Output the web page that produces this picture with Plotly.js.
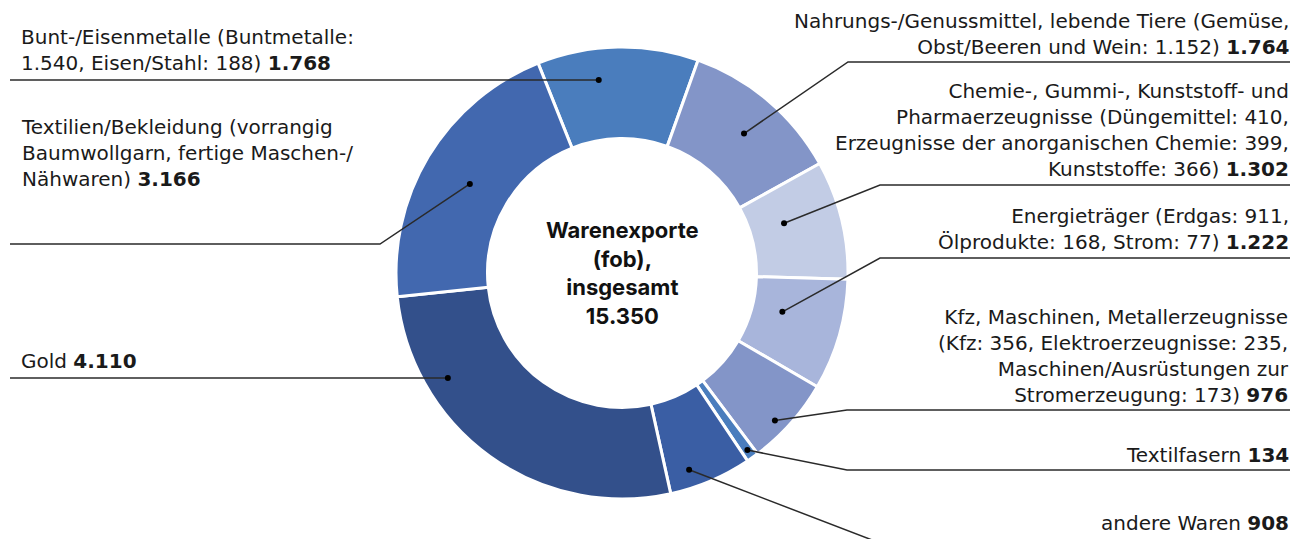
<!DOCTYPE html>
<html>
<head>
<meta charset="utf-8">
<script src="https://cdn.plot.ly/plotly-3.0.1.min.js"></script>
<style>
  html, body { margin: 0; padding: 0; background: #fff; }
  #chart { width: 1303px; height: 539px; }
</style>
</head>
<body>
<div id="chart"></div>
<script>
// Warenexporte (fob), Mio. US$ - Reihenfolge im Uhrzeigersinn ab "Bunt-/Eisenmetalle"
const kategorien = [
  "Bunt-/Eisenmetalle",
  "Nahrungs-/Genussmittel",
  "Chemie",
  "Energieträger",
  "Kfz/Maschinen",
  "Textilfasern",
  "andere Waren",
  "Gold",
  "Textilien/Bekleidung"
];
const werte = [1768, 1764, 1302, 1222, 976, 134, 908, 4110, 3166];
const beschriftungen = [
  "Bunt-/Eisenmetalle (Buntmetalle:<br>1.540, Eisen/Stahl: 188) <b>1.768</b>",
  "Nahrungs-/Genussmittel, lebende Tiere (Gemüse,<br>Obst/Beeren und Wein: 1.152) <b>1.764</b>",
  "Chemie-, Gummi-, Kunststoff- und<br>Pharmaerzeugnisse (Düngemittel: 410,<br>Erzeugnisse der anorganischen Chemie: 399,<br>Kunststoffe: 366) <b>1.302</b>",
  "Energieträger (Erdgas: 911,<br>Ölprodukte: 168, Strom: 77) <b>1.222</b>",
  "Kfz, Maschinen, Metallerzeugnisse<br>(Kfz: 356, Elektroerzeugnisse: 235,<br>Maschinen/Ausrüstungen zur<br>Stromerzeugung: 173) <b>976</b>",
  "Textilfasern <b>134</b>",
  "andere Waren <b>908</b>",
  "Gold <b>4.110</b>",
  "Textilien/Bekleidung (vorrangig<br>Baumwollgarn, fertige Maschen-/<br>Nähwaren) <b>3.166</b>"
];
const farben = ["#4a7dbd", "#8395c8", "#c2cce5", "#a8b5db", "#8395c8", "#4a7dbd", "#3a5ea4", "#33508b", "#4268af"];
const mitteText = "<b>Warenexporte<br>(fob),<br>insgesamt<br>15.350</b>";

// Geometrie (Pixel)
const W = 1303, H = 539;
const cx = 622, cy = 273, R = 226;
const drehung = -21.8;

// Lage der Beschriftungen: Seite, Mitte des Textblocks, Linienhöhe, Knick, Punkt (Anteil im Segment, Radius)
const lage = [
  { seite: "l", ty: 50,  ly: null, kx: null, t: 0.36, r: 0.86 },
  { seite: "r", ty: 34,  ly: 62,  kx: 848, t: 0.52, r: 0.82 },
  { seite: "r", ty: 130, ly: 185, kx: 880, t: 0.39, r: 0.75 },
  { seite: "r", ty: 229, ly: 258, kx: 880, t: 0.42, r: 0.73 },
  { seite: "r", ty: 356, ly: 410, kx: 847, t: 0.60, r: 0.94 },
  { seite: "r", ty: 455, ly: 470, kx: 847, t: 0.50, r: 0.96 },
  { seite: "r", ty: 523, ly: 548, kx: 893, t: 0.70, r: 0.92 },
  { seite: "l", ty: 361, ly: null, kx: null, t: 0.74, r: 0.90 },
  { seite: "l", ty: 153, ly: 244, kx: 380, t: 0.49, r: 0.78 }
];

const px = (x) => x / W;
const py = (y) => 1 - y / H;

const summe = werte.reduce((a, b) => a + b, 0);
let start = drehung;
const shapes = [];
const annotations = [];

werte.forEach((v, i) => {
  const breite = v / summe * 360;
  const L = lage[i];
  const winkel = (start + breite * L.t) * Math.PI / 180;
  const dx = cx + R * L.r * Math.sin(winkel);
  const dy = cy - R * L.r * Math.cos(winkel);
  start += breite;

  // Linie
  let pfad;
  if (L.seite === "l") {
    if (L.kx === null) {
      pfad = `M${px(10)},${py(dy)} L${px(dx)},${py(dy)}`;
    } else {
      pfad = `M${px(10)},${py(L.ly)} L${px(L.kx)},${py(L.ly)} L${px(dx)},${py(dy)}`;
    }
  } else {
    pfad = `M${px(1290)},${py(L.ly)} L${px(L.kx)},${py(L.ly)} L${px(dx)},${py(dy)}`;
  }
  shapes.push({
    type: "path", xref: "paper", yref: "paper", path: pfad,
    line: { color: "#2a2a2a", width: 1.5 }, layer: "above"
  });
  // Punkt
  shapes.push({
    type: "circle", xref: "paper", yref: "paper",
    x0: px(dx - 3), x1: px(dx + 3), y0: py(dy + 3), y1: py(dy - 3),
    fillcolor: "#000", line: { width: 0 }, layer: "above"
  });

  annotations.push({
    xref: "paper", yref: "paper",
    x: L.seite === "l" ? px(19) : px(1291),
    y: py(L.ty),
    xanchor: L.seite === "l" ? "left" : "right",
    yanchor: "middle",
    align: L.seite === "l" ? "left" : "right",
    showarrow: false,
    text: beschriftungen[i],
    font: { family: "DejaVu Sans, sans-serif", size: 20, color: "#1a1a1a" }
  });
});

annotations.push({
  xref: "paper", yref: "paper", x: px(cx), y: py(cy),
  xanchor: "center", yanchor: "middle", align: "center",
  showarrow: false, text: mitteText,
  font: { family: "Inter, sans-serif", size: 22, color: "#111" }
});

const daten = [{
  type: "pie",
  labels: kategorien,
  values: werte,
  sort: false,
  direction: "clockwise",
  rotation: drehung,
  hole: 0.595,
  textinfo: "none",
  hoverinfo: "label+value",
  marker: { colors: farben, line: { color: "#fff", width: 3 } },
  domain: { x: [px(cx - R), px(cx + R)], y: [py(cy + R), py(cy - R)] }
}];

const layout = {
  width: W, height: H,
  margin: { l: 0, r: 0, t: 0, b: 0 },
  paper_bgcolor: "#fff",
  showlegend: false,
  shapes: shapes,
  annotations: annotations
};

Plotly.newPlot("chart", daten, layout, { displayModeBar: false, staticPlot: true });
</script>
</body>
</html>
